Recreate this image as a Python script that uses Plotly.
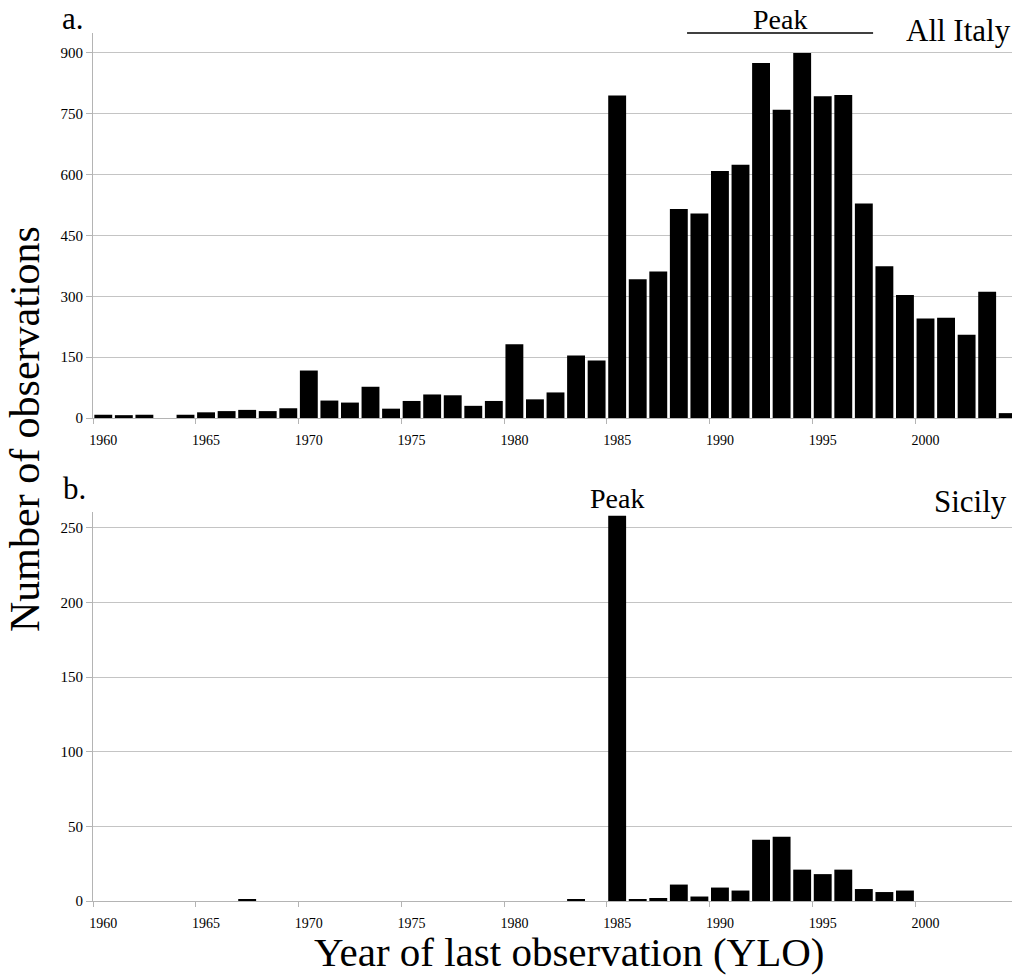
import plotly.graph_objects as go

# ---------------- data ----------------
years = list(range(1960, 2005))
all_italy = [8, 7, 8, 0, 8, 14, 17, 20, 17, 24,
             117, 43, 38, 77, 23, 42, 58, 56, 30, 42,
             182, 46, 63, 154, 142, 795, 342, 361, 515, 504,
             609, 624, 875, 760, 900, 793, 796, 529, 374, 303,
             245, 247, 205, 311, 12]
sicily = [0, 0, 0, 0, 0, 0, 0, 1, 0, 0,
          0, 0, 0, 0, 0, 0, 0, 0, 0, 0,
          0, 0, 0, 1, 0, 258, 1, 2, 11, 3,
          9, 7, 41, 43, 21, 18, 21, 8, 6, 7,
          0, 0, 0, 0, 0]
x_tick_years = [1960, 1965, 1970, 1975, 1980, 1985, 1990, 1995, 2000]
x_tick_labels = [str(y) for y in x_tick_years]
y_ticks_a = [0, 150, 300, 450, 600, 750, 900]
y_ticks_b = [0, 50, 100, 150, 200, 250]
peak_span_a = [1988.4, 1997.45]

# ---------------- layout helpers ----------------
# the page body has an 8px margin, so figure coords = screen coords - 8
OFF = 8
W, H = 1020, 977
PL, PR, PT, PB = 93, 1018, 33, 901          # plot area in screen pixels
L, T = PL - OFF, PT - OFF
R = W - (PR - OFF)
B = H - (PB - OFF)
pw, ph = W - L - R, H - T - B


def px(x):
    return (x - OFF - L) / pw


def py(y):
    return (H - B - (y - OFF)) / ph


FONT = "Liberation Serif"
GRID = "#c4c4c4"
AX = "#b4b4b4"
boundaries = [y - 0.5 for y in years if (y - 1960) % 5 == 0] + [years[-1] + 0.5]

fig = go.Figure()
fig.add_trace(go.Bar(x=years, y=all_italy, marker=dict(color="black", line=dict(width=0)),
                     xaxis="x", yaxis="y", showlegend=False))
fig.add_trace(go.Bar(x=years, y=sicily, marker=dict(color="black", line=dict(width=0)),
                     xaxis="x2", yaxis="y2", showlegend=False))

xcommon = dict(range=[years[0] - 0.5, years[-1] + 0.5], tickmode="array",
               tickvals=x_tick_years, ticktext=x_tick_labels, ticks="",
               showgrid=False, showline=True, linecolor=AX, linewidth=1,
               zeroline=False, ticklabelstandoff=9,
               tickfont=dict(family=FONT, size=14, color="black"),
               minor=dict(tickmode="array", tickvals=boundaries, ticks="outside",
                          ticklen=5, tickcolor=AX, showgrid=False))
ycommon = dict(tickmode="array", showgrid=True, gridcolor=GRID, gridwidth=1,
               showline=True, linecolor=AX, linewidth=1, ticks="outside",
               ticklen=6, tickcolor=AX, zeroline=False,
               tickfont=dict(family=FONT, size=15, color="black"))

fig.update_layout(
    width=W, height=H,
    margin=dict(l=L, r=R, t=T, b=B),
    paper_bgcolor="white", plot_bgcolor="white",
    bargap=0.13,
    xaxis=dict(domain=[0, 1], anchor="y", **xcommon),
    yaxis=dict(domain=[py(418), 1], anchor="x", range=[0, 949],
               tickvals=y_ticks_a, **ycommon),
    xaxis2=dict(domain=[0, 1], anchor="y2", **xcommon),
    yaxis2=dict(domain=[0, py(512)], anchor="x2", range=[0, 260.5],
                tickvals=y_ticks_b, **ycommon),
)

# Peak line (panel a)
fig.add_shape(type="line", xref="x", yref="paper", x0=peak_span_a[0], x1=peak_span_a[1],
              y0=1, y1=1, line=dict(color="black", width=1.5))

ann = []
ann.append(dict(text="Peak", x=sum(peak_span_a) / 2, xref="x", y=py(19), yref="paper",
                font=dict(family=FONT, size=28, color="black")))
ann.append(dict(text="All Italy", x=px(958), xref="paper", y=py(30), yref="paper",
                font=dict(family=FONT, size=31, color="black")))
ann.append(dict(text="a.", x=px(73), xref="paper", y=py(18), yref="paper",
                font=dict(family=FONT, size=31, color="black")))
ann.append(dict(text="b.", x=px(74), xref="paper", y=py(489), yref="paper",
                font=dict(family=FONT, size=31, color="black")))
ann.append(dict(text="Peak", x=1985, xref="x2", y=py(498), yref="paper",
                font=dict(family=FONT, size=28, color="black")))
ann.append(dict(text="Sicily", x=px(970), xref="paper", y=py(501), yref="paper",
                font=dict(family=FONT, size=31, color="black")))
ann.append(dict(text="Number of observations", x=px(25), xref="paper", y=py(429), yref="paper",
                textangle=-90, font=dict(family=FONT, size=42, color="black")))
ann.append(dict(text="Year of last observation (YLO)", x=px(569), xref="paper", y=py(952),
                yref="paper", font=dict(family=FONT, size=41, color="black")))
for a in ann:
    a.update(showarrow=False, xanchor="center", yanchor="middle")
fig.update_layout(annotations=ann)

fig.write_html("out.html")
